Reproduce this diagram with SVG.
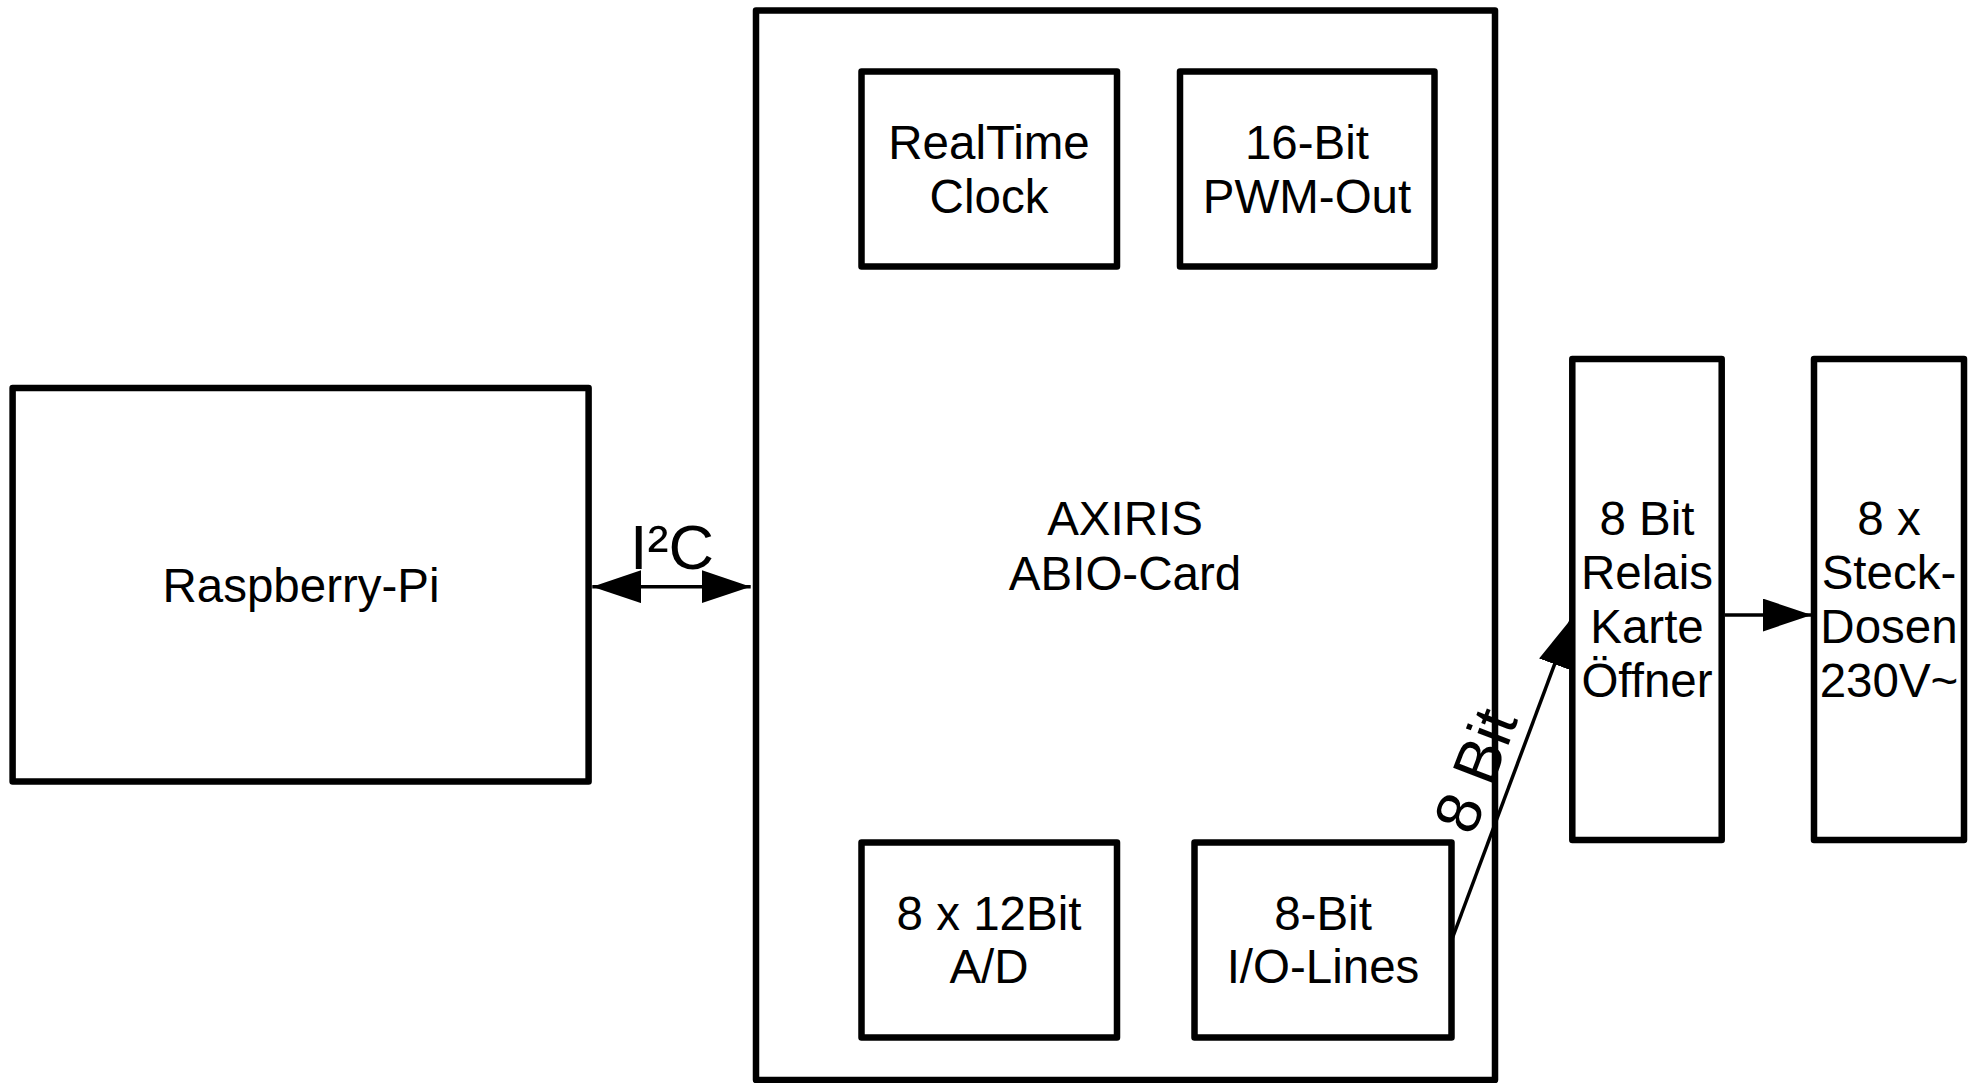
<svg xmlns="http://www.w3.org/2000/svg" width="1976" height="1083" viewBox="0 0 1976 1083">
<style>
.box{fill:#fff;stroke:#000;stroke-width:6.5;stroke-linejoin:round}
.t{font-family:"Liberation Sans",Arial,sans-serif;font-size:47.5px;fill:#000;text-anchor:middle}
.lbl{font-family:"Liberation Sans",Arial,sans-serif;font-size:63px;fill:#000}
.con{fill:none;stroke:#000;stroke-width:3.5}
</style>
<defs>
<marker id="ah" markerUnits="userSpaceOnUse" markerWidth="50" markerHeight="34" refX="49" refY="16.5" orient="auto-start-reverse" viewBox="0 0 50 34">
<path d="M0,0 L49,16.5 L0,33 Z" fill="#000"/>
</marker>
</defs>
<rect width="1976" height="1083" fill="#fff"/>
<g id="raspberry">
<rect class="box" x="12.6" y="388" width="576" height="393.5"/>
<text class="t" x="301" y="602">Raspberry-Pi</text>
</g>
<g id="abio-card">
<rect class="box" x="756" y="10.5" width="739" height="1069.5"/>
<text class="t" x="1125" y="535">AXIRIS</text>
<text class="t" x="1125" y="590">ABIO-Card</text>
</g>
<g id="rtc">
<rect class="box" x="861.5" y="71.5" width="255.5" height="195"/>
<text class="t" x="989" y="159">RealTime</text>
<text class="t" x="989" y="213">Clock</text>
</g>
<g id="pwm">
<rect class="box" x="1180" y="71.5" width="254.5" height="195"/>
<text class="t" x="1307" y="159">16-Bit</text>
<text class="t" x="1307" y="213">PWM-Out</text>
</g>
<g id="ad">
<rect class="box" x="861.5" y="842.5" width="255.5" height="195"/>
<text class="t" x="989" y="930">8 x 12Bit</text>
<text class="t" x="989" y="983">A/D</text>
</g>
<g id="io">
<rect class="box" x="1194.5" y="842.5" width="257" height="195"/>
<text class="t" x="1323" y="930">8-Bit</text>
<text class="t" x="1323" y="983">I/O-Lines</text>
</g>
<g id="relais">
<rect class="box" x="1572.3" y="359" width="149.4" height="481"/>
<text class="t" x="1647" y="535">8 Bit</text>
<text class="t" x="1647" y="589">Relais</text>
<text class="t" x="1647" y="643">Karte</text>
<text class="t" x="1647" y="697">Öffner</text>
</g>
<g id="steckdosen">
<rect class="box" x="1814" y="359" width="150" height="481"/>
<text class="t" x="1889" y="535">8 x</text>
<text class="t" x="1889" y="589">Steck-</text>
<text class="t" x="1889" y="643">Dosen</text>
<text class="t" x="1889" y="697">230V~</text>
</g>
<g id="connectors">
<line class="con" x1="592.3" y1="586.7" x2="750.7" y2="586.7" marker-start="url(#ah)" marker-end="url(#ah)"/>
<text class="lbl" x="630" y="569">I²C</text>
<line class="con" x1="1451.7" y1="940" x2="1571.7" y2="618.3" marker-end="url(#ah)"/>
<text class="lbl" x="1473" y="837" transform="rotate(-69 1473 837)">8 Bit</text>
<line class="con" x1="1725" y1="615" x2="1811.7" y2="615" marker-end="url(#ah)"/>
</g>
</svg>
